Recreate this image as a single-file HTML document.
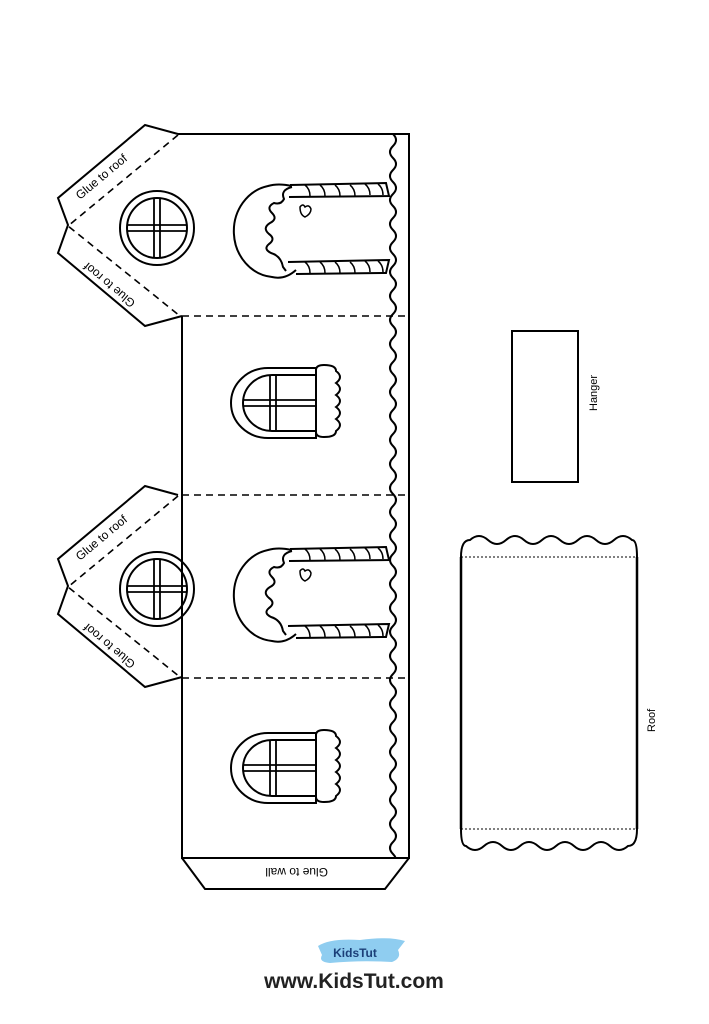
<!DOCTYPE html>
<html><head><meta charset="utf-8"><style>
html,body{margin:0;padding:0;background:#fff;}
svg{display:block}
text{font-family:"Liberation Sans",sans-serif;}
</style></head><body>
<svg width="709" height="1024" viewBox="0 0 709 1024" xmlns="http://www.w3.org/2000/svg">
<defs>
<clipPath id="wc"><rect x="380" y="134" width="40" height="724"/></clipPath>
<g id="gable">
  <path d="M178,134 L145,125 L58,198 L68,225 L58,253 L145,326 L182,316" fill="none" stroke="#000" stroke-width="2"/>
  <path d="M178,135 L68,226 L180,316" fill="none" stroke="#000" stroke-width="1.6" stroke-dasharray="7,5"/>
  <text x="0" y="0" font-size="12" transform="translate(80,200) rotate(-40)">Glue to roof</text>
  <text x="0" y="0" font-size="12" transform="translate(136,302) rotate(220)">Glue to roof</text>
  <circle cx="157" cy="228" r="37" fill="none" stroke="#000" stroke-width="2"/>
  <circle cx="157" cy="228" r="30" fill="none" stroke="#000" stroke-width="2"/>
  <path d="M127,225 H187 M127,231 H187 M154,198 V258 M160,198 V258" stroke="#000" stroke-width="1.8"/>
</g>
<g id="door">
  <path d="M292,186 Q278,183 268,186 A42,46 0 0 0 272,277 Q285,280 296,270" fill="none" stroke="#000" stroke-width="2"/>
  <path d="M292,187 q-12,3 -8,12 q-3,6 -10,4 q-8,4 -2,10 q6,6 -2,10 q-8,5 -1,11 q7,5 0,10 q-6,5 2,9 q10,3 12,14 l3,4" fill="none" stroke="#000" stroke-width="2"/>
  <path d="M290,185 L386,183 L389,196 L289,197 M288,262 L389,260 L386,273 L296,274" fill="none" stroke="#000" stroke-width="2"/>
  <path d="M305,185 q5,4 5,11 M320,185 q5,4 5,11 M335,185 q5,4 5,11 M350,185 q5,4 5,11 M365,184 q5,4 5,11 M378,184 q5,4 5,11 M305,262 q5,4 5,11 M320,262 q5,4 5,11 M335,262 q5,4 5,11 M350,262 q5,4 5,11 M365,261 q5,4 5,11 M378,261 q5,4 5,11" fill="none" stroke="#000" stroke-width="1.5"/>
  <path d="M300,207 q3,-4 5,0 q4,-3 6,2 q0,5 -6,8 q-5,-2 -5,-10z" fill="none" stroke="#000" stroke-width="1.5"/>
</g>
<g id="win">
  <path d="M316,368 H268 A37,35 0 0 0 268,438 H316 Z" fill="none" stroke="#000" stroke-width="2"/>
  <path d="M316,375 H272 A29,28 0 0 0 272,431 H316" fill="none" stroke="#000" stroke-width="2"/>
  <path d="M243,400 H316 M243,406 H316 M270,375 V431 M276,375 V431" stroke="#000" stroke-width="1.8"/>
  <path d="M316,370 q0,-5 8,-5 q12,0 12,6 q8,6 0,12 q8,6 0,12 q8,6 0,12 q8,6 0,12 q8,6 0,12 q0,6 -12,6 q-8,0 -8,-5 Z" fill="#fff" stroke="#000" stroke-width="2"/>
</g>
</defs>

<path d="M178,134 H409 V858 H182 V316" fill="none" stroke="#000" stroke-width="2"/>
<path d="M182,495 V678" fill="none" stroke="#000" stroke-width="2"/>
<path d="M182,316 H409 M182,495 H409 M182,678 H409 M182,858 H409" stroke="#000" stroke-width="1.6" stroke-dasharray="7,5"/>
<use href="#gable"/>
<use href="#gable" transform="translate(0,361)"/>
<use href="#door"/>
<use href="#door" transform="translate(0,364)"/>
<use href="#win"/>
<use href="#win" transform="translate(0,365)"/>
<g clip-path="url(#wc)">
<path d="M393,134 q6,6 0,12 t0,12 t0,12 t0,12 t0,12 t0,12 t0,12 t0,12 t0,12 t0,12 t0,12 t0,12 t0,12 t0,12 t0,12 t0,12 t0,12 t0,12 t0,12 t0,12 t0,12 t0,12 t0,12 t0,12 t0,12 t0,12 t0,12 t0,12 t0,12 t0,12 t0,12 t0,12 t0,12 t0,12 t0,12 t0,12 t0,12 t0,12 t0,12 t0,12 t0,12 t0,12 t0,12 t0,12 t0,12 t0,12 t0,12 t0,12 t0,12 t0,12 t0,12 t0,12 t0,12 t0,12 t0,12 t0,12 t0,12 t0,12 t0,12 t0,12 t0,12 t0,12 t0,12 t0,12 t0,12 t0,12" fill="none" stroke="#000" stroke-width="2"/>
</g>
<path d="M182,858 L205,889 H385 L409,858" fill="none" stroke="#000" stroke-width="2"/>
<text x="0" y="0" font-size="12" transform="translate(328,868) rotate(180)">Glue to wall</text>

<rect x="512" y="331" width="66" height="151" fill="none" stroke="#000" stroke-width="2"/>
<text x="0" y="0" font-size="11" transform="translate(597,411) rotate(-90)">Hanger</text>

<path d="M461,557 Q461,540 470,540 q9,-8 18,0 t18,0 t18,0 t18,0 t18,0 t18,0 t18,0 t18,0 t18,0 Q637,540 637,557 V829 Q637,846 628,846 q-9,8 -18,0 t-18,0 t-18,0 t-18,0 t-18,0 t-18,0 t-18,0 t-18,0 t-18,0 Q461,846 461,829 Z" fill="none" stroke="#000" stroke-width="2"/>
<path d="M461,557 H637 M461,829 H637" stroke="#000" stroke-width="1" stroke-dasharray="2,2"/>
<path d="M461,557 V829 M637,557 V829" stroke="#000" stroke-width="2.5"/>
<text x="0" y="0" font-size="11" transform="translate(655,732) rotate(-90)">Roof</text>

<path d="M318,946 Q330,938 360,940 Q390,936 405,941 L398,950 Q402,958 392,962 Q360,960 330,963 Q318,962 322,955 Z" fill="#8fcdf0"/>
<text x="355" y="957" font-size="12" font-weight="bold" fill="#1b3f78" text-anchor="middle">KidsTut</text>
<text x="354" y="988" font-size="21" font-weight="bold" fill="#222" text-anchor="middle">www.KidsTut.com</text>
</svg>
</body></html>
